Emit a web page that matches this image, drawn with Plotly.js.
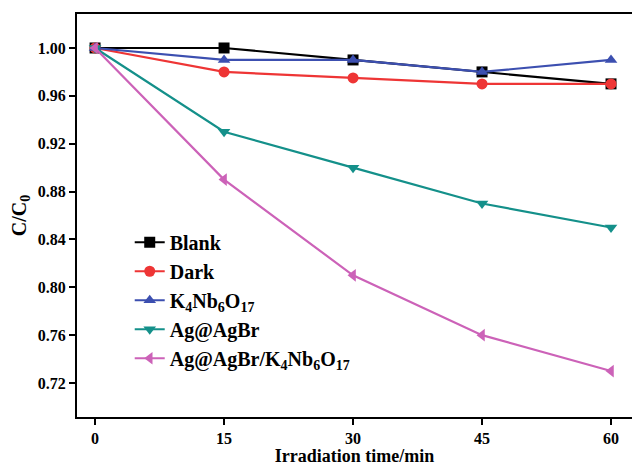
<!DOCTYPE html>
<html>
<head>
<meta charset="utf-8">
<script src="https://cdn.plot.ly/plotly-3.0.1.min.js"></script>
<style>html,body{margin:0;padding:0;background:#fff;overflow:hidden;}</style>
</head>
<body>
<div id="chart" style="width:632px;height:466px;"></div>
<script>
const times = [0, 15, 30, 45, 60];
const seriesNames = ["Blank", "Dark", "K<sub>4</sub>Nb<sub>6</sub>O<sub>17</sub>", "Ag@AgBr", "Ag@AgBr/K<sub>4</sub>Nb<sub>6</sub>O<sub>17</sub>"];
const blank = [1.00, 1.00, 0.99, 0.98, 0.97];
const dark = [1.00, 0.98, 0.975, 0.97, 0.97];
const k4nb6o17 = [1.00, 0.99, 0.99, 0.98, 0.99];
const agAgBr = [1.00, 0.93, 0.90, 0.87, 0.85];
const composite = [1.00, 0.89, 0.81, 0.76, 0.73];
const yTicks = [0.72, 0.76, 0.80, 0.84, 0.88, 0.92, 0.96, 1.00];
const xTicks = [0, 15, 30, 45, 60];

const values = [blank, dark, k4nb6o17, agAgBr, composite];
const colors = ["#000000", "#ee3535", "#3c4fb0", "#14908a", "#cc62b8"];
const symbols = ["square", "circle", "triangle-up", "triangle-down", "triangle-left"];

const traces = values.map((v, i) => ({
  x: times, y: v, name: seriesNames[i], type: "scatter", mode: "lines+markers",
  line: {color: colors[i], width: 2.2},
  marker: {symbol: symbols[i], size: 11, color: colors[i]}
}));

const font = "'Liberation Serif', 'Times New Roman', serif";
const layout = {
  width: 632, height: 466,
  margin: {l: 77, r: 0, t: 14, b: 49},
  paper_bgcolor: "#fff", plot_bgcolor: "#fff",
  font: {family: font, color: "#000"},
  showlegend: true,
  legend: {x: 0.095, y: 0.482, xanchor: "left", yanchor: "top", bgcolor: "rgba(0,0,0,0)",
    font: {family: font, size: 20, color: "#000", weight: "bold"}, tracegroupgap: 0},
  xaxis: {
    range: [-2.1, 62.44], tickvals: xTicks, ticktext: xTicks.map(String),
    showgrid: false, zeroline: false, showline: true, mirror: true, linecolor: "#000", linewidth: 2,
    ticks: "outside", ticklen: 6, tickwidth: 2, tickcolor: "#000",
    tickfont: {family: font, size: 16, weight: "bold"},
    title: {text: "Irradiation time/min", font: {family: font, size: 18, weight: "bold"}, standoff: 1}
  },
  yaxis: {
    range: [0.6916, 1.0284], tickvals: yTicks, ticktext: yTicks.map(t => t.toFixed(2)),
    showgrid: false, zeroline: false, showline: true, linecolor: "#000", linewidth: 2,
    ticks: "outside", ticklen: 6, tickwidth: 2, tickcolor: "#000",
    tickfont: {family: font, size: 16, weight: "bold"},
    title: {text: "C/C<sub>0</sub>", font: {family: font, size: 20, weight: "bold"}, standoff: 6}
  }
};

Plotly.newPlot("chart", traces, layout, {displayModeBar: false, staticPlot: true});
</script>
</body>
</html>
